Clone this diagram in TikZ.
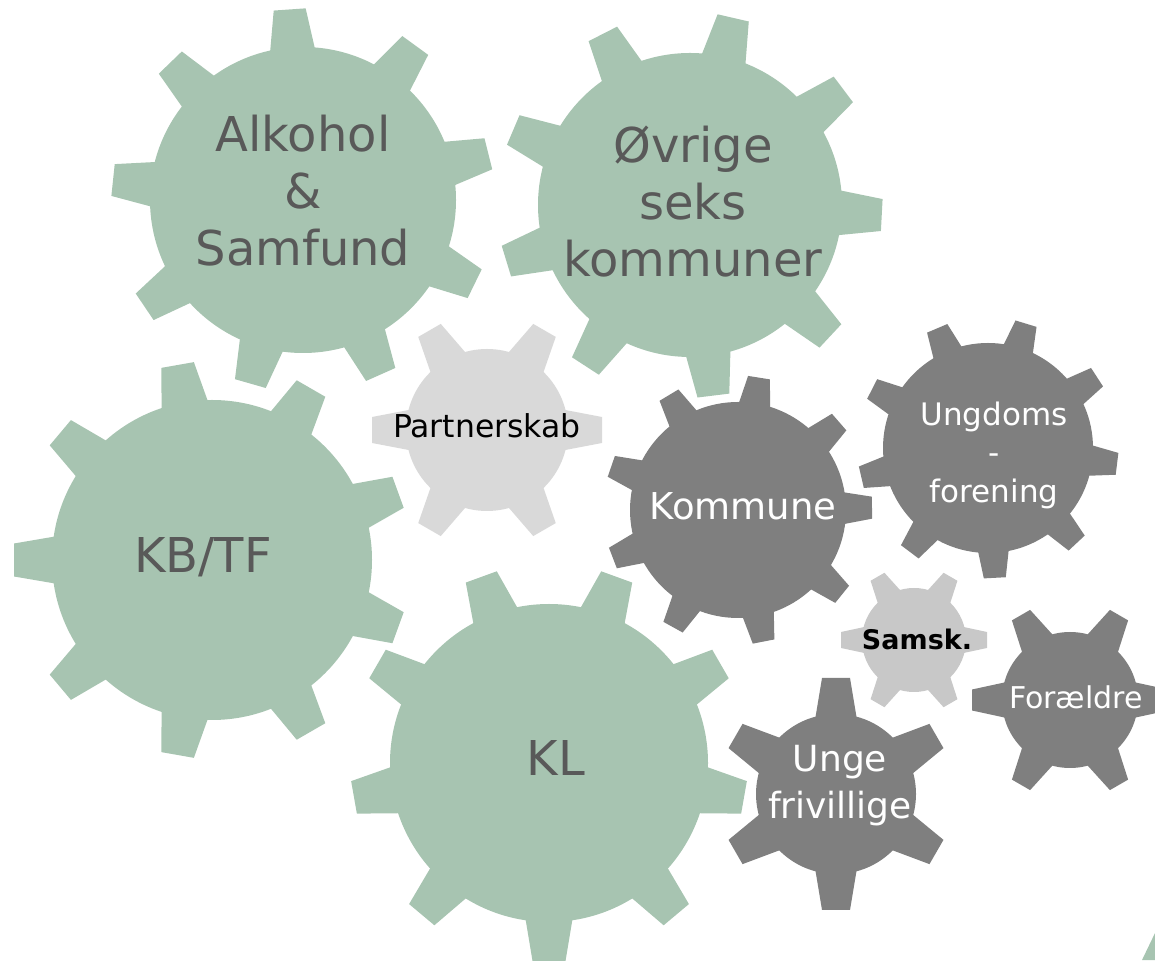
\documentclass[tikz,border=0pt]{standalone}
\usepackage{fontspec}
\setmainfont{DejaVu Sans}
\definecolor{gearGreen}{HTML}{A7C4B1}
\definecolor{gearDark}{HTML}{7F7F7F}
\definecolor{gearLight}{HTML}{D9D9D9}
\definecolor{gearMid}{HTML}{C8C8C8}
\definecolor{txtGreen}{HTML}{595959}
% #1 cx, #2 cy (image coords, y down), #3 body radius, #4 outer radius,
% #5 teeth, #6 first tooth angle, #7 tip half width, #8 base half width, #9 colour
\newcommand\gearshape[9]{%
  \pgfmathsetmacro\gri{0.8*#3}%
  \pgfmathsetmacro\gwi{#8+(#8-#7)*(#3-\gri)/(#4-#3)}%
  \begin{scope}[shift={(#1,960-#2)}]
    \fill[#9] (0,0) circle[radius=#3];
    \foreach \k in {1,...,#5}{
      \fill[#9,rotate=#6+\k*360/#5] (\gri,-\gwi) -- (#4,-#7) -- (#4,#7) -- (\gri,\gwi) -- cycle;
    }
  \end{scope}}
\tikzset{
  greentext/.style={inner sep=0pt, align=center, text=txtGreen, font=\fontsize{48}{57}\selectfont},
  whitetext/.style={inner sep=0pt, align=center, text=white},
  blacktext/.style={inner sep=0pt, align=center, text=black}
}
\begin{document}
\begin{tikzpicture}[x=1pt,y=1pt]
\useasboundingbox (0,0) rectangle (1155,960);
\clip (0,0) rectangle (1155,960);
% green gears
\gearshape{303}{200}{153}{191}{9}{14}{16}{22}{gearGreen}
\gearshape{690}{205}{152}{192}{9}{-3}{16}{22}{gearGreen}
\gearshape{212}{560}{160}{198}{9}{20}{16.5}{23}{gearGreen}
\gearshape{549}{763}{159}{198}{9}{30}{16.5}{23}{gearGreen}
% light gears
\gearshape{487}{430}{81}{115}{6}{0}{13}{19.5}{gearLight}
\gearshape{914}{640}{52}{73}{6}{0}{8}{12.5}{gearMid}
% dark gears
\gearshape{738}{510}{108}{134}{9}{1}{11}{15.5}{gearDark}
\gearshape{988}{448}{105}{130}{9}{-7}{11}{15}{gearDark}
\gearshape{836}{794}{80}{116}{6}{30}{14}{20}{gearDark}
\gearshape{1070}{700}{68}{98}{6}{0}{10.5}{17}{gearDark}
% corner piece of an off-canvas gear
\fill[gearGreen] (1142,0) -- (1155,27) -- (1155,0) -- cycle;
% labels
\node[greentext] (alk) at (303,769) {Alkohol\\\&\\Samfund};
\node[greentext] (ovr) at (693,758) {Øvrige\\seks\\kommuner};
\node[greentext] (kbtf) at (203,403) {KB/TF};
\node[greentext] (kl) at (556,201.5) {KL};
\node[blacktext, font=\fontsize{31.5}{38}\selectfont] (part) at (487,534) {Partnerskab};
\node[whitetext, font=\fontsize{37}{44}\selectfont] (komm) at (743,453.5) {Kommune};
\node[whitetext, font=\fontsize{31}{38.5}\selectfont] (ungd) at (994,505) {Ungdoms\\-\\forening};
\node[whitetext, font=\fontsize{36}{47}\selectfont] (unge) at (840,174) {Unge\\frivillige};
\node[whitetext, font=\fontsize{30}{36}\selectfont] (foraeld) at (1076,263) {Forældre};
\node[blacktext, font=\fontsize{27}{32}\selectfont\bfseries] (samsk) at (917,321) {Samsk.};
\end{tikzpicture}
\end{document}
